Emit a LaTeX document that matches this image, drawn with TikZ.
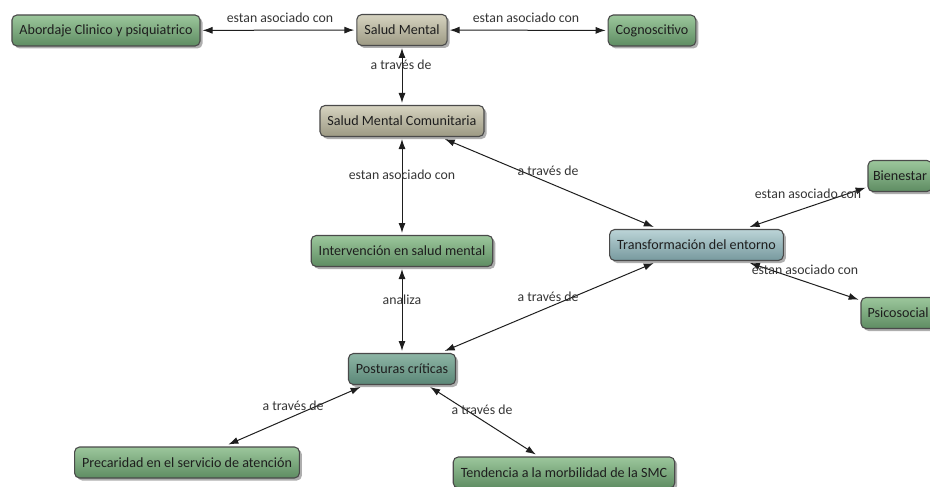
\documentclass[tikz,border=0pt]{standalone}
\usepackage{fontspec}
\setmainfont{Carlito}
\usetikzlibrary{arrows.meta,shadows}
\definecolor{gtop}{HTML}{9CC79C}
\definecolor{gbot}{HTML}{5E8C62}
\definecolor{btop}{HTML}{D6D3C0}
\definecolor{bbot}{HTML}{9C9983}
\definecolor{ttop}{HTML}{BBD4D7}
\definecolor{tbot}{HTML}{77999E}
\definecolor{ptop}{HTML}{8DB5A5}
\definecolor{pbot}{HTML}{5B8777}
\definecolor{edgecol}{HTML}{4A4A4A}
\definecolor{inkcol}{HTML}{1E1E1E}
\tikzset{
  x=1pt, y=1pt,
  concept/.style={draw=edgecol, line width=1.1pt, rounded corners=5pt,
    inner xsep=7.5pt, inner ysep=0pt, minimum height=31pt, text=inkcol,
    font=\fontsize{14.1}{16}\selectfont, outer sep=2.5pt,
    drop shadow={shadow xshift=2.5pt, shadow yshift=-2.5pt, opacity=0.45, fill=black!70}},
  greenbox/.style={concept, top color=gtop, bottom color=gbot},
  beigebox/.style={concept, top color=btop, bottom color=bbot},
  bluebox/.style={concept, top color=ttop, bottom color=tbot},
  tealbox/.style={concept, top color=ptop, bottom color=pbot},
  link/.style={draw=inkcol, line width=1pt, {Latex[length=10pt,width=7pt]}-{Latex[length=10pt,width=7pt]}},
  lbl/.style={text=inkcol!90, inner sep=0pt, font=\fontsize{13.8}{15}\selectfont}
}
\begin{document}
\begin{tikzpicture}
\useasboundingbox (0,0) rectangle (930,-487);
% concepts
\node[greenbox] (abo) at (106,-30.5) {Abordaje Clinico y psiquiatrico};
\node[beigebox] (sm) at (402,-30) {Salud Mental};
\node[greenbox] (cog) at (652,-30.5) {Cognoscitivo};
\node[beigebox] (smc) at (402,-121) {Salud Mental Comunitaria};
\node[greenbox] (int) at (402,-251) {Intervención en salud mental};
\node[bluebox] (tra) at (696.5,-245) {Transformación del entorno};
\node[greenbox, anchor=west, outer sep=0pt, inner xsep=5pt] (bie) at (868,-176) {Bienestar};
\node[greenbox, anchor=west, outer sep=0pt, inner xsep=6.5pt] (psi) at (861,-313) {Psicosocial};
\node[tealbox] (pos) at (402,-369) {Posturas críticas};
\node[greenbox] (pre) at (187,-462.5) {Precaridad en el servicio de atención};
\node[greenbox] (ten) at (564,-472.5) {Tendencia a la morbilidad de la SMC};
% connectors
\draw[link] (abo) -- (sm);
\draw[link] (sm) -- (cog);
\draw[link] (sm) -- (smc);
\draw[link] (smc) -- (int);
\draw[link] (smc) -- (tra);
\draw[link, shorten >=2.5pt] (tra) -- (bie);
\draw[link, shorten >=2.5pt] (tra) -- (psi);
\draw[link] (int) -- (pos);
\draw[link] (tra) -- (pos);
\draw[link] (pos) -- (pre);
\draw[link] (pos) -- (ten);
% linking phrases
\node[lbl] (l1) at (280,-18) {estan asociado con};
\node[lbl] (l2) at (526,-18) {estan asociado con};
\node[lbl] (l3) at (401,-65) {a través de};
\node[lbl] (l4) at (402,-175) {estan asociado con};
\node[lbl] (l5) at (548,-171) {a través de};
\node[lbl] (l6) at (808,-194) {estan asociado con};
\node[lbl] (l7) at (805,-270) {estan asociado con};
\node[lbl] (l8) at (402,-300) {analiza};
\node[lbl] (l9) at (548,-297) {a través de};
\node[lbl] (l10) at (293,-406) {a través de};
\node[lbl] (l11) at (482,-410) {a través de};
\end{tikzpicture}
\end{document}
